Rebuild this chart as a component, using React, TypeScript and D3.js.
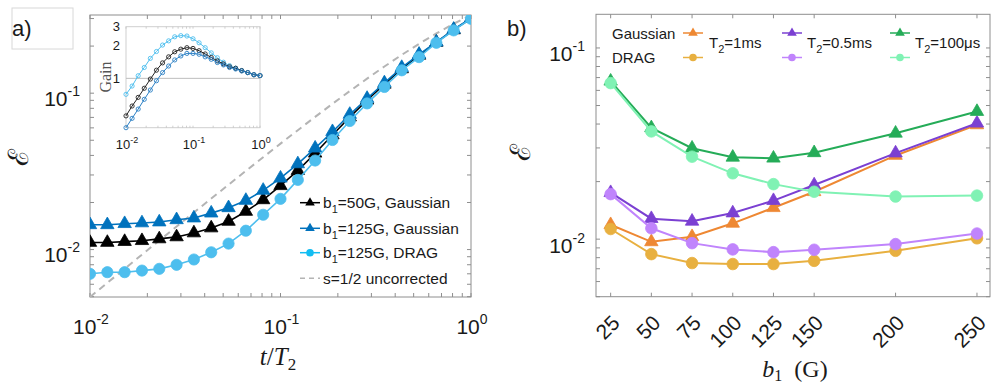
import React from 'react';
import * as d3 from 'd3';

// ---------- Panel a data ----------
const tOverT2 = [0.01, 0.01233, 0.0152, 0.01874, 0.0231, 0.02848, 0.03511, 0.04329, 0.05337, 0.06579, 0.08111, 0.1, 0.1233, 0.152, 0.1874, 0.231, 0.2848, 0.3511, 0.4329, 0.5337, 0.6579, 0.8111, 1.0];
const err50Gauss = [0.0111, 0.0111, 0.01125, 0.0114, 0.0117, 0.01205, 0.01277, 0.01374, 0.01514, 0.01753, 0.0208, 0.0256, 0.032, 0.0413, 0.054, 0.0703, 0.0902, 0.114, 0.143, 0.1746, 0.2113, 0.2538, 0.3006];
const err125Gauss = [0.0144, 0.0144, 0.01464, 0.0148, 0.015, 0.0155, 0.0159, 0.0171, 0.0185, 0.0206, 0.0239, 0.0286, 0.0353, 0.0445, 0.0567, 0.0731, 0.0925, 0.1163, 0.1458, 0.1772, 0.212, 0.256, 0.302];
const err125Drag = [0.007, 0.00717, 0.00717, 0.00734, 0.00753, 0.00799, 0.00864, 0.00961, 0.01092, 0.0132, 0.0167, 0.0211, 0.0279, 0.0371, 0.0502, 0.0664, 0.086, 0.1096, 0.14, 0.17, 0.21, 0.252, 0.299];
const errUncorrected = [0.004975, 0.006127, 0.007542, 0.009283, 0.01142, 0.01404, 0.01725, 0.02119, 0.02599, 0.03184, 0.03895, 0.04758, 0.058, 0.0705, 0.08544, 0.1031, 0.1239, 0.148, 0.1757, 0.2068, 0.241, 0.2778, 0.3161];
const gain50Gauss = [0.45, 0.555, 0.667, 0.81, 0.985, 1.19, 1.39, 1.58, 1.76, 1.86, 1.92, 1.89, 1.8, 1.68, 1.56, 1.45, 1.36, 1.28, 1.24, 1.18, 1.13, 1.08, 1.06];
const gain125Gauss = [0.35, 0.427, 0.52, 0.64, 0.78, 0.95, 1.13, 1.3, 1.48, 1.61, 1.7, 1.7, 1.67, 1.58, 1.5, 1.4, 1.33, 1.26, 1.22, 1.17, 1.13, 1.08, 1.06];
const gain125Drag = [0.712, 0.849, 1.057, 1.26, 1.53, 1.77, 2.03, 2.22, 2.42, 2.48, 2.46, 2.32, 2.13, 1.92, 1.72, 1.55, 1.41, 1.31, 1.24, 1.18, 1.13, 1.08, 1.06];
const legendA = ['=50G, Gaussian', '=125G, Gaussian', '=125G, DRAG', 's=1/2 uncorrected'];

// ---------- Panel b data ----------
const b1Values = [25, 50, 75, 100, 125, 150, 200, 250];
const gauss1ms = [0.0119, 0.00968, 0.0103, 0.0121, 0.0146, 0.0177, 0.0274, 0.0396];
const drag1ms = [0.0113, 0.00835, 0.0075, 0.00741, 0.00741, 0.0077, 0.00869, 0.0101];
const gauss05ms = [0.0175, 0.0128, 0.0124, 0.0137, 0.0159, 0.0192, 0.0282, 0.0404];
const drag05ms = [0.0172, 0.0114, 0.00953, 0.00884, 0.00855, 0.0088, 0.00942, 0.0107];
const gauss100us = [0.067, 0.0382, 0.0299, 0.0268, 0.0265, 0.0283, 0.0358, 0.0465];
const drag100us = [0.0655, 0.0366, 0.027, 0.0221, 0.0194, 0.0177, 0.0167, 0.0169];
const legendB = ['=1ms', '=0.5ms', '=100\u03BCs'];

const SANS = '"Liberation Sans", Arial, Helvetica, sans-serif';
const SERIF = '"Liberation Serif", "Times New Roman", "DejaVu Serif", serif';
const AX = '#8e8e8e';

const C_BLACK = '#000000';
const C_BLUE = '#0072BD';
const C_LBLUE = '#4DBEEE';
const C_OR = '#EE8833';
const C_LOR = '#E8B040';
const C_PU = '#7B40D2';
const C_LPU = '#C084FC';
const C_GR = '#25AC58';
const C_LGR = '#80F2B4';

const triPath = d3.symbol().type(d3.symbolTriangle).size(78)() as string;

function Marker({ kind, x, y, color, r = 5.5 }: any) {
  if (kind === 'tri') return <path d={triPath} transform={`translate(${x},${y})`} fill={color} stroke={color} strokeWidth={0.8} />;
  return <circle cx={x} cy={y} r={r} fill={color} stroke={color} strokeWidth={0.8} />;
}

function Series({ xs, ys, xS, yS, color, kind, lw = 1.6, r }: any) {
  const line = d3.line<number>().x((_, i) => xS(xs[i])).y((d) => yS(d));
  return (
    <g>
      <path d={line(ys) as string} fill="none" stroke={color} strokeWidth={lw} />
      {ys.map((v: number, i: number) => (
        <Marker key={i} kind={kind} x={xS(xs[i])} y={yS(v)} color={color} r={r} />
      ))}
    </g>
  );
}

function Pow({ x, y, exp, size = 21, anchor = 'middle', sup = 14, raise = 10 }: any) {
  return (
    <text x={x} y={y} textAnchor={anchor} fontFamily={SANS} fontSize={size} fill="#1a1a1a">
      <tspan>10</tspan>
      <tspan dy={-raise} fontSize={sup}>{exp}</tspan>
    </text>
  );
}

export default function App() {
  // Panel a scales
  const xA = d3.scaleLog().domain([0.01, 1]).range([90, 471]);
  const yA = d3.scaleLog().domain([0.004975, 0.3161]).range([297, 15]);
  const xI = d3.scaleLog().domain([0.01, 1]).range([126, 260]);
  const yI = d3.scaleLog().domain([0.35, 3]).range([127.7, 26.7]);
  // Panel b scales
  const xB = d3.scaleLinear().domain([16, 258]).range([596, 990]);
  const yB = d3.scaleLog().domain([0.005, 0.15]).range([296.7, 14.3]);

  const [ax0, ax1] = xA.range();
  const [ay0, ay1] = yA.range();
  const [ix0, ix1] = xI.range();
  const [iy0, iy1] = yI.range();
  const [bx0, bx1] = xB.range();
  const [by0, by1] = yB.range();

  const dashLine = d3.line<number>().x((_, i) => xA(tOverT2[i])).y((d) => yA(d));
  const insetLine = d3.line<number>().x((_, i) => xI(tOverT2[i])).y((d) => yI(d));

  const xTicksA = xA.ticks();
  const yTicksA = yA.ticks();
  const xTicksI = xI.ticks();
  const yTicksB = yB.ticks();
  const isPow = (v: number) => Math.abs(Math.log10(v) - Math.round(Math.log10(v))) < 1e-6;
  const expOf = (v: number) => String(Math.round(Math.log10(v)));

  const seriesA = [
    { ys: err50Gauss, color: C_BLACK, kind: 'tri' },
    { ys: err125Gauss, color: C_BLUE, kind: 'tri' },
    { ys: err125Drag, color: C_LBLUE, kind: 'circ' },
  ];
  const insetSeries = [
    { ys: gain125Drag, color: C_LBLUE },
    { ys: gain50Gauss, color: '#222222' },
    { ys: gain125Gauss, color: '#2a7fc4' },
  ];
  const legendAColors = [C_BLACK, C_BLUE, '#12BDF2'];
  const legendARows = [202.7, 228.3, 252.7, 278.3];

  const seriesB = [
    { ys: gauss1ms, color: C_OR, kind: 'tri' },
    { ys: drag1ms, color: C_LOR, kind: 'circ' },
    { ys: gauss05ms, color: C_PU, kind: 'tri' },
    { ys: drag05ms, color: C_LPU, kind: 'circ' },
    { ys: gauss100us, color: C_GR, kind: 'tri' },
    { ys: drag100us, color: C_LGR, kind: 'circ' },
  ];
  const legendBCols = [
    { x: 693, tx: 709, g: C_OR, d: C_LOR },
    { x: 792, tx: 807, g: C_PU, d: C_LPU },
    { x: 900, tx: 915, g: C_GR, d: C_LGR },
  ];

  return (
    <svg width={991} height={386} style={{ position: 'absolute', left: 0, top: 0, background: '#fff' }}>
      <defs>
        <clipPath id="clipA"><rect x={ax0} y={ay1} width={ax1 - ax0} height={ay0 - ay1} /></clipPath>
        <clipPath id="clipB"><rect x={bx0} y={by1 - 8} width={bx1 - bx0} height={by0 - by1 + 8} /></clipPath>
      </defs>
      <rect x={0} y={0} width={991} height={386} fill="#fff" />

      {/* ================= Panel a ================= */}
      <rect x={12} y={8} width={61} height={41} fill="none" stroke="#d8d8d8" strokeWidth={1} />
      <text x={12} y={36} fontFamily={SANS} fontSize={22} fill="#1a1a1a">a)</text>

      <rect x={ax0} y={ay1} width={ax1 - ax0} height={ay0 - ay1} fill="none" stroke={AX} strokeWidth={1} />
      {xTicksA.map((t, i) => (
        <g key={'xa' + i} stroke={AX} strokeWidth={1}>
          <line x1={xA(t)} x2={xA(t)} y1={ay0} y2={ay0 - 4} />
          <line x1={xA(t)} x2={xA(t)} y1={ay1} y2={ay1 + 4} />
        </g>
      ))}
      {yTicksA.map((t, i) => (
        <g key={'ya' + i} stroke={AX} strokeWidth={1}>
          <line x1={ax0} x2={ax0 + 4} y1={yA(t)} y2={yA(t)} />
          <line x1={ax1} x2={ax1 - 4} y1={yA(t)} y2={yA(t)} />
        </g>
      ))}
      {xTicksA.filter(isPow).map((t, i) => (
        <Pow key={'xal' + i} x={xA(t) + 1} y={334} exp={expOf(t)} />
      ))}
      {yTicksA.filter(isPow).map((t, i) => (
        <Pow key={'yal' + i} x={80} y={yA(t) + 12.5} anchor="end" exp={expOf(t)} />
      ))}
      <text transform="translate(28,157) rotate(-90)" textAnchor="middle" fontFamily={SERIF} fontSize={28} fill="#1a1a1a">{'\u2130'}</text>
      <text x={278} y={365} textAnchor="middle" fontFamily={SERIF} fontSize={25} fill="#1a1a1a">
        <tspan fontStyle="italic">t</tspan>
        <tspan>/</tspan>
        <tspan fontStyle="italic">T</tspan>
        <tspan fontSize={17} dy={5}>2</tspan>
      </text>

      <g clipPath="url(#clipA)">
        <path d={dashLine(errUncorrected) as string} fill="none" stroke="#b4b4b4" strokeWidth={2} strokeDasharray="7,5" />
        {seriesA.map((s, k) => (
          <Series key={k} xs={tOverT2} ys={s.ys} xS={xA} yS={yA} color={s.color} kind={s.kind} lw={1.6} r={5.6} />
        ))}
      </g>

      {/* Inset */}
      <rect x={ix0} y={iy1} width={ix1 - ix0} height={iy0 - iy1} fill="#fff" stroke="#cfcfcf" strokeWidth={1} />
      <line x1={ix0} x2={ix1} y1={yI(1)} y2={yI(1)} stroke="#bdbdbd" strokeWidth={1} />
      {xTicksI.map((t, i) => (
        <g key={'xi' + i} stroke="#c4c4c4" strokeWidth={0.8}>
          <line x1={xI(t)} x2={xI(t)} y1={iy0} y2={iy0 - 2} />
          <line x1={xI(t)} x2={xI(t)} y1={iy1} y2={iy1 + 2} />
        </g>
      ))}
      {[1, 2, 3].map((t) => (
        <text key={'yil' + t} x={120} y={yI(t) + 4.5} textAnchor="end" fontFamily={SANS} fontSize={13} fill="#1a1a1a">{t}</text>
      ))}
      {xTicksI.filter(isPow).map((t, i) => (
        <Pow key={'xil' + i} x={xI(t) + 1} y={148.5} size={13} sup={9} raise={6} exp={expOf(t)} />
      ))}
      <text transform="translate(111,77) rotate(-90)" textAnchor="middle" fontFamily={SERIF} fontSize={16} fill="#555">Gain</text>
      {insetSeries.map((s, k) => (
        <g key={'is' + k}>
          <path d={insetLine(s.ys) as string} fill="none" stroke={s.color} strokeWidth={1} />
          {s.ys.map((v, i) => (
            <circle key={i} cx={xI(tOverT2[i])} cy={yI(v)} r={2.1} fill="none" stroke={s.color} strokeWidth={0.9} />
          ))}
        </g>
      ))}

      {/* Legend a */}
      {legendA.map((lab, i) => {
        const y = legendARows[i];
        if (i === 3) {
          return (
            <g key={'la' + i}>
              <line x1={300} x2={320} y1={y} y2={y} stroke="#b4b4b4" strokeWidth={1.5} strokeDasharray="5,4" />
              <text x={323} y={y + 5.5} fontFamily={SANS} fontSize={15.5} fill="#1a1a1a">{lab}</text>
            </g>
          );
        }
        return (
          <g key={'la' + i}>
            <line x1={300} x2={320} y1={y} y2={y} stroke={legendAColors[i]} strokeWidth={1.5} />
            {i < 2 ? (
              <path d={d3.symbol().type(d3.symbolTriangle).size(40)() as string} transform={`translate(310,${y})`} fill={legendAColors[i]} />
            ) : (
              <circle cx={310} cy={y} r={3.8} fill={legendAColors[i]} />
            )}
            <text x={323} y={y + 5.5} fontFamily={SANS} fontSize={15.5} fill="#1a1a1a">
              <tspan>b</tspan>
              <tspan fontSize={11} dy={5}>1</tspan>
              <tspan dy={-5}>{lab}</tspan>
            </text>
          </g>
        );
      })}

      {/* ================= Panel b ================= */}
      <text x={507} y={36} fontFamily={SANS} fontSize={22} fill="#1a1a1a">b)</text>
      <rect x={bx0} y={by1} width={bx1 - bx0} height={by0 - by1} fill="none" stroke={AX} strokeWidth={1} />
      {b1Values.map((t, i) => (
        <g key={'xb' + i} stroke={AX} strokeWidth={1}>
          <line x1={xB(t)} x2={xB(t)} y1={by0} y2={by0 - 4} />
          <line x1={xB(t)} x2={xB(t)} y1={by1} y2={by1 + 4} />
        </g>
      ))}
      {yTicksB.map((t, i) => (
        <g key={'yb' + i} stroke={AX} strokeWidth={1}>
          <line x1={bx0} x2={bx0 + 4} y1={yB(t)} y2={yB(t)} />
          <line x1={bx1} x2={bx1 - 4} y1={yB(t)} y2={yB(t)} />
        </g>
      ))}
      {yTicksB.filter(isPow).map((t, i) => (
        <Pow key={'ybl' + i} x={585} y={yB(t) + 13.5} anchor="end" exp={expOf(t)} />
      ))}
      {b1Values.map((t, i) => (
        <text key={'xbl' + i} transform={`translate(${xB(t) + 5},${319}) rotate(-45)`} textAnchor="end" dominantBaseline="central" fontFamily={SANS} fontSize={21} fill="#1a1a1a">{t}</text>
      ))}
      <text transform="translate(530,152) rotate(-90)" textAnchor="middle" fontFamily={SERIF} fontSize={28} fill="#1a1a1a">{'\u2130'}</text>
      <text x={795} y={377} textAnchor="middle" fontFamily={SERIF} fontSize={24} fill="#1a1a1a">
        <tspan fontStyle="italic">b</tspan>
        <tspan fontSize={16} dy={4}>1</tspan>
        <tspan dy={-4}>{'\u2002(G)'}</tspan>
      </text>

      <g clipPath="url(#clipB)">
        {seriesB.map((s, k) => (
          <Series key={k} xs={b1Values} ys={s.ys} xS={xB} yS={yB} color={s.color} kind={s.kind} lw={2} r={5.8} />
        ))}
      </g>

      {/* Legend b */}
      <text x={612} y={39} fontFamily={SANS} fontSize={15} fill="#1a1a1a">Gaussian</text>
      <text x={612} y={63} fontFamily={SANS} fontSize={15} fill="#1a1a1a">DRAG</text>
      {legendBCols.map((c, i) => (
        <g key={'lb' + i}>
          <line x1={c.x - 10} x2={c.x + 10} y1={33} y2={33} stroke={c.g} strokeWidth={1.5} />
          <path d={d3.symbol().type(d3.symbolTriangle).size(40)() as string} transform={`translate(${c.x},33)`} fill={c.g} />
          <line x1={c.x - 10} x2={c.x + 10} y1={57.5} y2={57.5} stroke={c.d} strokeWidth={1.5} />
          <circle cx={c.x} cy={57.5} r={3.8} fill={c.d} />
          <text x={c.tx} y={48} fontFamily={SANS} fontSize={15} fill="#1a1a1a">
            <tspan>T</tspan>
            <tspan fontSize={11} dy={5}>2</tspan>
            <tspan dy={-5}>{legendB[i]}</tspan>
          </text>
        </g>
      ))}
    </svg>
  );
}
